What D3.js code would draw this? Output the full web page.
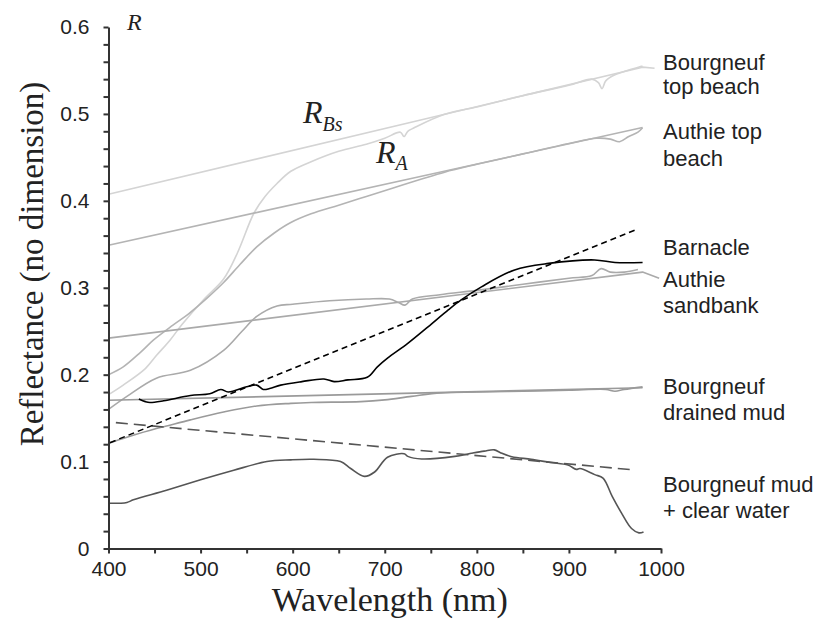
<!DOCTYPE html>
<meta charset="utf-8">
<style>
body { margin: 0; background: #fff; }
.axis path, .axis line { stroke: #333; stroke-width: 2px; }
.axis text { font-family: "Liberation Sans", Arial, sans-serif; font-size: 21px; fill: #222; }
.series { fill: none; stroke-width: 1.6px; stroke-linejoin: round; }
.lbl { font-family: "Liberation Sans", Arial, sans-serif; font-size: 22px; fill: #222; }
.title { font-family: "Liberation Serif", "Times New Roman", serif; font-size: 34px; fill: #222; }
.rsym { font-family: "Liberation Serif", "Times New Roman", serif; font-style: italic; fill: #222; }
</style>
<svg width="825" height="633"></svg>
<script src="https://d3js.org/d3.v7.min.js"></script>
<script>

// measured spectra, [wavelength nm, reflectance]
var bourgTop = [[400,0.177],[416,0.188],[440,0.207],[452,0.222],[467,0.240],[480,0.258],[503,0.286],
  [525,0.310],[540,0.340],[558,0.386],[570,0.405],[583,0.420],[598,0.434],[620,0.445],[650,0.457],
  [680,0.465],[700,0.472],[717,0.479],[721,0.474],[725,0.480],[732,0.484],[765,0.4995],[800,0.508],
  [850,0.521],[900,0.533],[925,0.540],[932,0.536],[936,0.529],[940,0.538],[950,0.545],[980,0.555]];

var authieTop = [[400,0.200],[416,0.209],[435,0.226],[449,0.240],[470,0.257],[487,0.270],[507,0.288],
  [525,0.306],[543,0.327],[561,0.347],[580,0.363],[598,0.375],[620,0.385],[650,0.395],[680,0.405],
  [710,0.415],[740,0.425],[765,0.433],[800,0.442],[850,0.454],[900,0.466],[930,0.472],[945,0.471],
  [955,0.468],[965,0.474],[975,0.479],[980,0.484]];

var authieSand = [[400,0.160],[420,0.175],[452,0.196],[489,0.205],[525,0.228],[545,0.250],[561,0.267],
  [583,0.279],[600,0.281],[640,0.285],[680,0.287],[705,0.287],[715,0.283],[722,0.280],[730,0.287],
  [760,0.292],[800,0.297],[850,0.304],[900,0.311],[925,0.314],[935,0.322],[945,0.318],[960,0.318],[975,0.321]];

var barnacle = [[433,0.172],[440,0.169],[445,0.168],[460,0.170],[489,0.176],[510,0.178],[522,0.183],
  [530,0.180],[550,0.186],[561,0.188],[568,0.183],[575,0.184],[587,0.188],[610,0.192],[634,0.195],
  [645,0.192],[660,0.194],[681,0.197],[692,0.209],[703,0.219],[725,0.236],[747,0.255],[769,0.2745],
  [783,0.286],[805,0.301],[841,0.3205],[878,0.328],[928,0.332],[950,0.329],[980,0.329]];

var drainedMud = [[400,0.121],[420,0.128],[452,0.138],[460,0.140],[489,0.148],[525,0.157],[561,0.164],
  [598,0.167],[620,0.168],[674,0.169],[700,0.171],[729,0.175],[761,0.179],[800,0.180],[850,0.181],
  [900,0.182],[940,0.183],[950,0.181],[960,0.183],[980,0.186]];

var mudWater = [[400,0.052],[420,0.053],[427,0.056],[463,0.067],[500,0.079],[536,0.090],[572,0.100],
  [598,0.102],[623,0.1026],[652,0.100],[663,0.092],[678,0.083],[689,0.088],[703,0.105],[721,0.109],
  [725,0.106],[740,0.103],[776,0.106],[794,0.1095],[808,0.112],[819,0.1135],[826,0.110],[838,0.1056],
  [859,0.1026],[880,0.099],[899,0.096],[908,0.091],[912,0.092],[928,0.085],[937,0.081],[947,0.060],
  [957,0.041],[968,0.023],[976,0.018],[981,0.019]];

// linear fits (end points, plus leader to the label where there is one)
var bourgTopFit = [[400,0.4076],[980,0.5538],[993,0.5525]];
var authieTopFit = [[400,0.349],[980,0.4843]];
var authieSandFit = [[400,0.242],[980,0.318],[998,0.311]];
var drainedMudFit = [[400,0.1705],[980,0.185]];
var barnacleFit = [[401.6,0.1218],[972,0.3665]];
var mudWaterFit = [[408,0.1448],[972,0.0903]];

// right-hand labels: lines of text and reflectance of first baseline
var labels = [
  { lines: ["Bourgneuf", "top beach"], r: 0.5506, dy: 24 },
  { lines: ["Authie top", "beach"], r: 0.4709, dy: 27 },
  { lines: ["Barnacle"], r: 0.3377, dy: 26 },
  { lines: ["Authie", "sandbank"], r: 0.301, dy: 26 },
  { lines: ["Bourgneuf", "drained mud"], r: 0.1778, dy: 26 },
  { lines: ["Bourgneuf mud", "+ clear water"], r: 0.065, dy: 26 }
];

var svg = d3.select("svg");

var x = d3.scaleLinear().domain([400, 1000]).range([108.5, 661]);
var y = d3.scaleLinear().domain([0, 0.6]).range([548.5, 27]);

var line = d3.line()
  .x(function(d) { return x(d[0]); })
  .y(function(d) { return y(d[1]); });
var smooth = d3.line()
  .x(function(d) { return x(d[0]); })
  .y(function(d) { return y(d[1]); })
  .curve(d3.curveCatmullRom);

var series = [
  { data: bourgTopFit, color: "#d4d4d4", gen: line },
  { data: bourgTop, color: "#d4d4d4", gen: smooth },
  { data: authieTopFit, color: "#b4b4b4", gen: line },
  { data: authieTop, color: "#b4b4b4", gen: smooth },
  { data: authieSandFit, color: "#aaaaaa", gen: line },
  { data: authieSand, color: "#aaaaaa", gen: smooth },
  { data: drainedMudFit, color: "#9a9a9a", gen: line },
  { data: drainedMud, color: "#9a9a9a", gen: smooth },
  { data: mudWater, color: "#555", gen: smooth },
  { data: mudWaterFit, color: "#555", gen: line, dash: "12,6", w: 2 },
  { data: barnacle, color: "#000", gen: smooth },
  { data: barnacleFit, color: "#000", gen: line, dash: "6,4", w: 2 }
];

svg.append("g").selectAll("path")
  .data(series)
  .enter().append("path")
  .attr("class", "series")
  .attr("stroke", function(d) { return d.color; })
  .attr("stroke-width", function(d) { return d.w || 1.6; })
  .attr("stroke-dasharray", function(d) { return d.dash || null; })
  .attr("d", function(d) { return d.gen(d.data); });

// axes
var xAxis = d3.axisBottom(x)
  .tickValues(d3.range(400, 1001, 50))
  .tickSize(5).tickSizeOuter(0).tickPadding(8)
  .tickFormat(function(d) { return d % 100 === 0 ? d : ""; });
svg.append("g").attr("class", "axis")
  .attr("transform", "translate(0," + y(0) + ")")
  .call(xAxis);

var yAxis = d3.axisLeft(y)
  .tickValues(d3.range(0, 31).map(function(i) { return i / 50; }))
  .tickSize(5).tickSizeOuter(0).tickPadding(14)
  .tickFormat(function(d) {
    var k = Math.round(d * 50);
    return k % 5 === 0 ? (k === 0 ? "0" : (k / 50).toFixed(1)) : "";
  });
svg.append("g").attr("class", "axis")
  .attr("transform", "translate(" + x(400) + ",0)")
  .call(yAxis);

// axis titles
svg.append("text").attr("class", "title")
  .attr("x", (x(400) + x(1000)) / 2 + 5).attr("y", 611)
  .attr("text-anchor", "middle")
  .text("Wavelength (nm)");

svg.append("text").attr("class", "title")
  .attr("transform", "translate(43,264) rotate(-90)")
  .attr("text-anchor", "middle")
  .style("font-size", "33px")
  .text("Reflectance (no dimension)");

svg.append("text").attr("class", "rsym")
  .attr("x", 127).attr("y", 30).style("font-size", "24px").text("R");

// curve symbols
var rbs = svg.append("text").attr("class", "rsym").attr("x", 303).attr("y", 123).style("font-size", "32px");
rbs.append("tspan").text("R");
rbs.append("tspan").attr("dy", 8).style("font-size", "20px").text("Bs");

var ra = svg.append("text").attr("class", "rsym").attr("x", 376).attr("y", 163).style("font-size", "32px");
ra.append("tspan").text("R");
ra.append("tspan").attr("dy", 7).style("font-size", "20px").text("A");

// labels
var lab = svg.append("g").selectAll("text")
  .data(labels)
  .enter().append("text")
  .attr("class", "lbl")
  .attr("x", 663)
  .attr("y", function(d) { return y(d.r); });
lab.selectAll("tspan")
  .data(function(d) { return d.lines.map(function(t, i) { return { t: t, i: i, dy: d.dy }; }); })
  .enter().append("tspan")
  .attr("x", 663)
  .attr("dy", function(d) { return d.i === 0 ? 0 : d.dy; })
  .text(function(d) { return d.t; });

</script>
